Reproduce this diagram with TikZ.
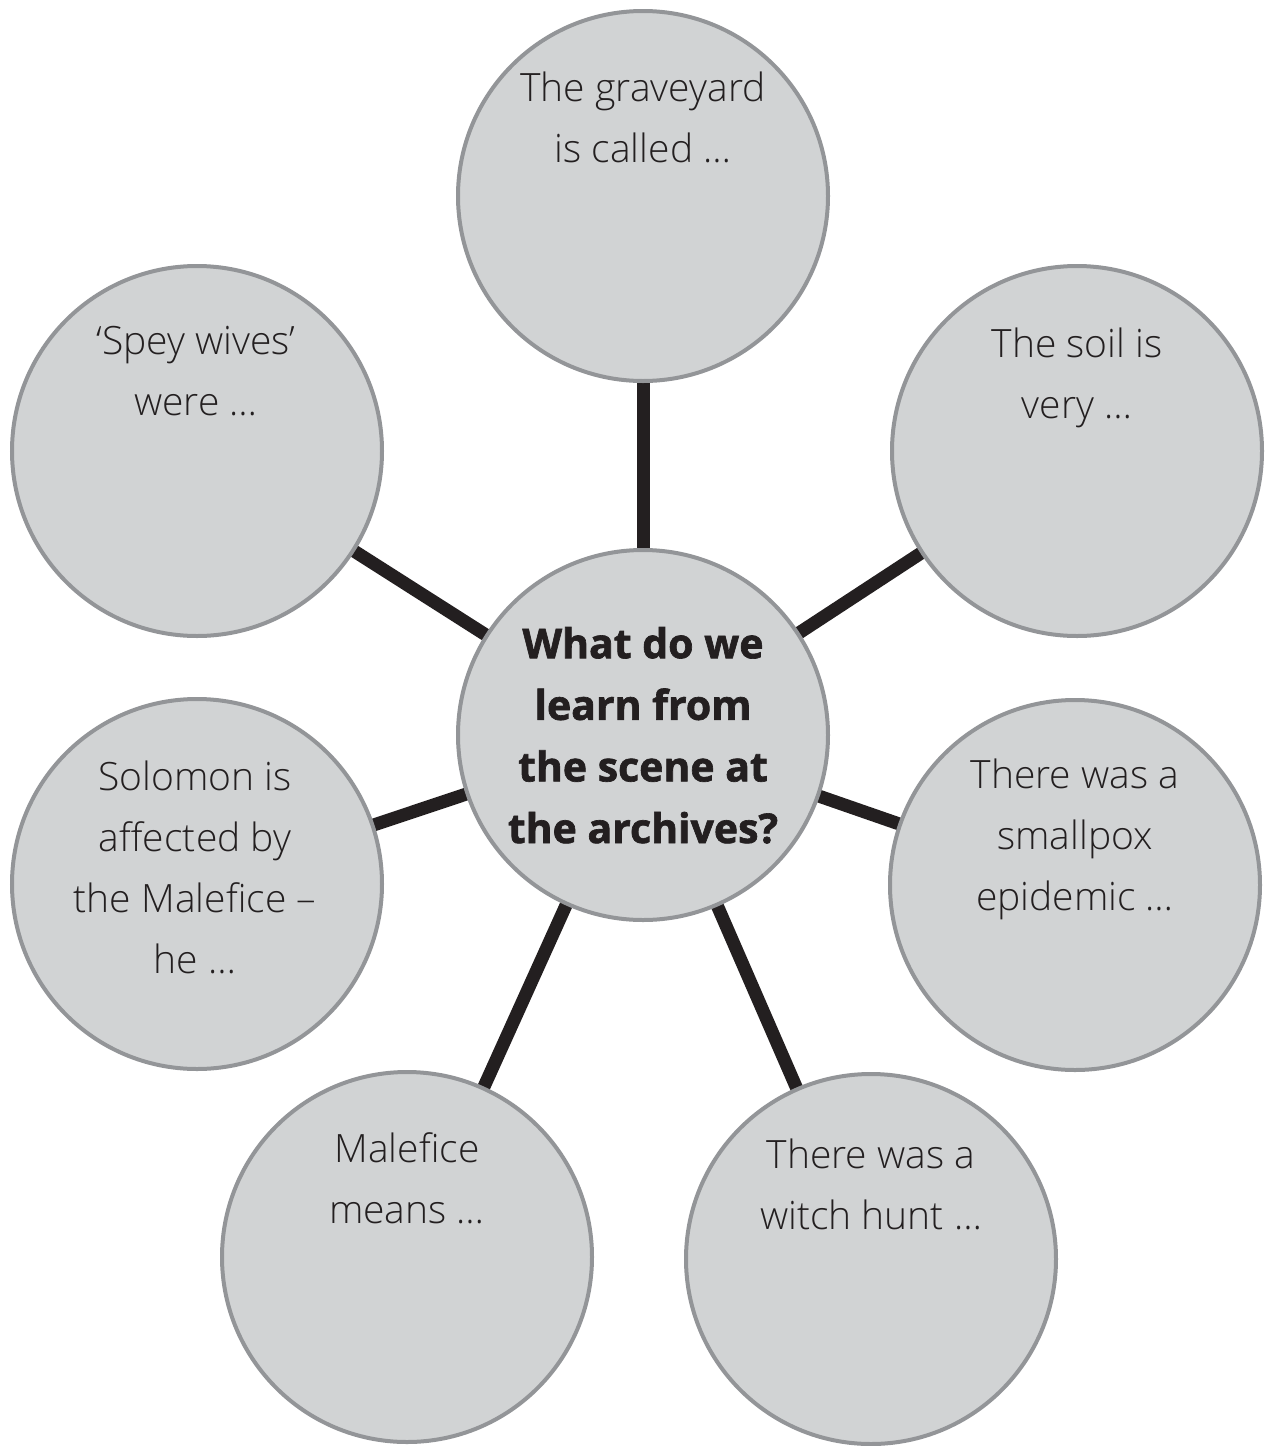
\documentclass[tikz,border=0pt]{standalone}
\usepackage{fontspec}
\setmainfont{Open Sans Light}
\newfontfamily\heavyfont{Open Sans}[BoldFeatures={FakeBold=1.6}]
\usetikzlibrary{backgrounds}
\definecolor{bubblefill}{HTML}{D1D3D4}
\definecolor{rim}{HTML}{939598}
\definecolor{ink}{HTML}{231F20}
\begin{document}
\begin{tikzpicture}[x=0.5pt,y=-0.5pt,
  bubble/.style={circle, draw=rim, fill=bubblefill, line width=2pt, minimum size=185pt, inner sep=0pt},
  link/.style={draw=ink, line width=6.5pt},
  caption/.style={anchor=base, align=center, text=ink, inner sep=0pt, font=\fontsize{19.5}{30.5}\selectfont},
  question/.style={anchor=base, align=center, text=ink, inner sep=0pt, font=\heavyfont\bfseries\fontsize{20.5}{30.8}\selectfont}]
\useasboundingbox (0,0) rectangle (1266,1446);
% circles
\node[bubble] (c)  at (643,735) {};
\node[bubble] (t)  at (643,196) {};
\node[bubble] (tr) at (1077,451) {};
\node[bubble] (r)  at (1075,885) {};
\node[bubble] (br) at (871,1259) {};
\node[bubble] (bl) at (407,1257) {};
\node[bubble] (l)  at (197,884) {};
\node[bubble] (tl) at (197,451) {};
% connectors
\begin{pgfonlayer}{background}
\foreach \n in {t,tr,r,br,bl,l,tl}{
  \draw[link] (c.center) -- (\n.center);
}
\end{pgfonlayer}
% texts (positioned at the baseline of the last line)
\node[question] (cq) at (643,843) {What do we\\learn from\\the scene at\\the archives?};
\node[caption] (tq)  at (643,162) {The graveyard\\is called \dots};
\node[caption] (trq) at (1077,418) {The soil is\\very \dots};
\node[caption] (rq)  at (1075,910) {There was a\\smallpox\\epidemic \dots};
\node[caption] (brq) at (871,1229) {There was a\\witch hunt \dots};
\node[caption] (blq) at (407,1223) {Malefice\\means \dots};
\node[caption] (lq)  at (195,973) {Solomon is\\affected by\\the Malefice --\\he \dots};
\node[caption] (tlq) at (196,415) {`Spey wives'\\were \dots};
\end{tikzpicture}
\end{document}
